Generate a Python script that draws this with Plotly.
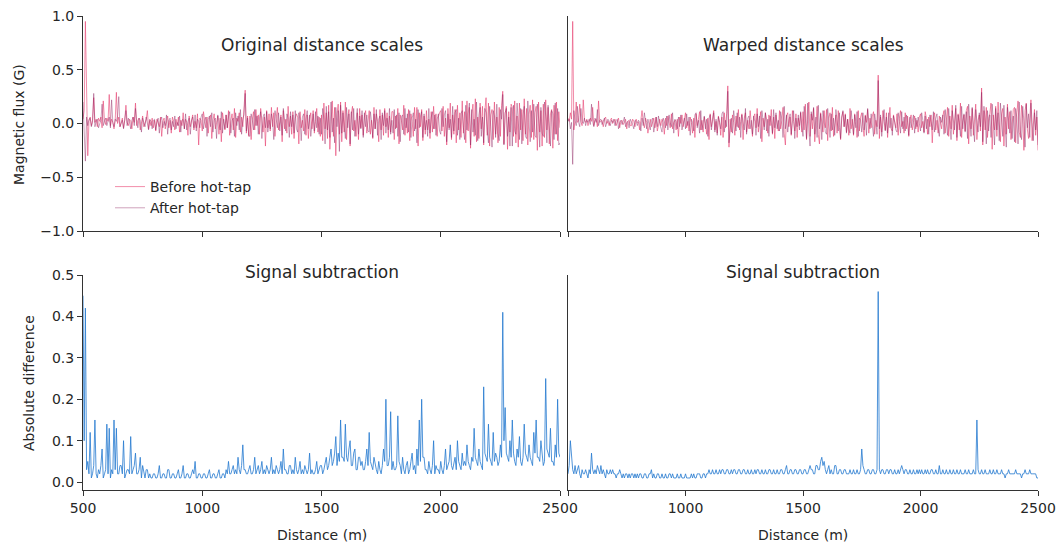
import plotly.graph_objects as go

# ---------------- data (5 m sampling from 500 m) ----------------
START_M = 500
STEP_M = 5

before_orig = [
    0.04, 0.12, 0.95, 0.10, -0.30, 0.02, 0.06, -0.02, 0.03, 0.24, 0.01, 0.04, -0.03, 0.05, 0.02, 0.06, -0.04, 0.21, 0.03, -0.01,
    0.05, 0.02, 0.27, -0.02, 0.04, 0.01, -0.05, 0.03, 0.29, 0.00, 0.06, -0.03, 0.02, 0.05, -0.04, 0.03, 0.17, 0.01, -0.02, 0.04,
    0.02, -0.05, 0.06, 0.01, 0.19, -0.02, 0.03, 0.05, -0.06, 0.02, 0.07, -0.03, 0.01, 0.04, 0.12, -0.05, 0.03, -0.02, 0.05, -0.04,
    0.03, -0.07, 0.04, 0.01, -0.03, 0.06, -0.12, 0.02, 0.05, -0.05, 0.01, 0.07, -0.04, 0.03, -0.09, 0.06, 0.02, -0.06, 0.04, -0.02,
    0.06, -0.08, 0.03, -0.02, 0.10, -0.05, 0.04, 0.01, -0.11, 0.07, -0.03, 0.05, 0.08, -0.06, 0.02, -0.04, 0.09, -0.20, 0.05, 0.03,
    -0.07, 0.11, 0.02, -0.04, 0.06, -0.09, 0.04, 0.08, -0.14, 0.03, 0.09, -0.05, 0.01, 0.07, -0.10, 0.05, -0.17, 0.10, 0.02, -0.06,
    0.08, -0.04, 0.12, -0.11, 0.03, 0.09, -0.06, 0.14, -0.13, 0.05, 0.02, 0.10, -0.08, 0.06, -0.03, 0.11, 0.31, -0.09, 0.07, -0.12,
    0.07, -0.15, 0.04, 0.11, -0.06, 0.13, -0.02, 0.08, -0.10, 0.14, 0.03, -0.08, 0.06, -0.21, 0.12, -0.04, 0.09, -0.07, 0.15, -0.03,
    0.10, -0.12, 0.05, 0.15, -0.06, 0.02, 0.08, -0.17, 0.12, -0.05, 0.04, -0.09, 0.16, -0.03, 0.07, -0.10, 0.11, -0.14, 0.05, 0.09,
    0.06, -0.19, 0.11, -0.04, 0.03, -0.07, 0.13, -0.11, 0.08, -0.14, 0.04, 0.10, -0.05, 0.12, -0.09, 0.02, 0.14, -0.08, 0.06, -0.12,
    0.08, -0.16, 0.19, -0.05, 0.10, -0.14, 0.17, -0.24, 0.06, 0.21, -0.12, 0.15, -0.30, 0.09, 0.18, -0.10, 0.20, -0.17, 0.12, -0.08,
    0.20, -0.15, 0.05, 0.13, -0.21, 0.09, 0.16, -0.07, 0.03, -0.12, 0.10, -0.15, 0.14, -0.04, 0.08, -0.11, 0.06, 0.12, -0.09, 0.04,
    0.12, -0.10, 0.03, -0.14, 0.15, -0.05, 0.09, 0.02, -0.17, 0.13, -0.06, 0.08, -0.11, 0.14, -0.03, 0.10, -0.13, 0.07, -0.08, 0.11,
    0.11, -0.15, 0.07, -0.04, 0.14, -0.19, 0.08, 0.03, -0.06, 0.17, -0.11, 0.05, -0.09, 0.13, -0.16, 0.09, 0.02, -0.12, 0.15, -0.05,
    0.15, -0.21, 0.10, -0.03, 0.13, -0.16, 0.07, -0.10, 0.12, -0.06, 0.04, -0.14, 0.11, -0.08, 0.16, -0.05, 0.09, -0.12, 0.06, 0.10,
    0.12, -0.07, 0.16, -0.12, 0.05, -0.20, 0.14, -0.04, 0.19, -0.15, 0.08, -0.10, 0.13, -0.18, 0.17, -0.06, 0.10, -0.13, 0.21, -0.09,
    0.11, -0.18, 0.21, -0.07, 0.15, -0.23, 0.09, 0.18, -0.12, 0.23, -0.17, 0.06, -0.14, 0.19, -0.05, 0.16, -0.20, 0.12, 0.24, -0.11,
    0.19, -0.21, 0.08, 0.13, -0.15, 0.20, -0.10, 0.06, -0.18, 0.15, -0.12, 0.17, 0.30, -0.19, 0.09, 0.16, -0.24, 0.11, -0.08, 0.18,
    0.15, -0.12, 0.21, -0.18, 0.07, -0.22, 0.19, -0.06, 0.13, -0.16, 0.23, -0.10, 0.14, -0.20, 0.08, 0.17, -0.13, 0.22, -0.15, 0.10,
    0.16, -0.25, 0.20, -0.08, 0.12, -0.21, 0.18, -0.13, 0.22, -0.06, 0.15, -0.19, 0.09, 0.13, -0.23, 0.17, -0.10, 0.20, -0.16, 0.11,
    -0.04,
]

after_orig = [
    0.20, -0.10, -0.35, 0.06, -0.02, 0.04, 0.05, -0.03, 0.01, 0.28, -0.03, 0.02, 0.04, -0.04, 0.01, 0.03, 0.18, -0.02, 0.02, 0.05,
    -0.02, 0.03, 0.06, -0.04, 0.22, 0.01, -0.03, 0.04, 0.02, 0.07, 0.25, -0.03, 0.01, 0.03, -0.05, 0.04, 0.12, -0.02, 0.05, 0.01,
    -0.05, 0.03, 0.06, -0.02, 0.14, 0.02, -0.04, 0.05, 0.03, -0.08, 0.05, 0.01, -0.03, 0.06, 0.01, -0.06, 0.04, 0.02, -0.05, 0.03,
    0.04, -0.06, 0.01, 0.05, -0.09, 0.03, 0.06, -0.04, 0.02, -0.02, 0.08, -0.10, 0.03, 0.05, -0.06, 0.02, -0.03, 0.07, -0.05, 0.01,
    -0.02, 0.07, -0.08, 0.03, 0.04, -0.05, 0.09, -0.06, 0.02, 0.05, -0.10, 0.03, 0.06, -0.04, 0.08, -0.07, 0.04, 0.02, -0.04, 0.06,
    0.09, -0.05, 0.02, 0.06, -0.12, 0.04, 0.07, -0.03, 0.10, -0.08, 0.03, 0.05, -0.14, 0.08, 0.02, -0.06, 0.11, -0.09, 0.04, -0.05,
    0.08, -0.04, 0.06, 0.11, -0.09, 0.03, 0.05, -0.12, 0.10, -0.02, 0.07, -0.06, 0.13, -0.10, 0.04, 0.08, 0.28, -0.07, 0.05, -0.11,
    -0.12, 0.09, 0.03, -0.06, 0.13, -0.02, 0.07, -0.10, 0.05, 0.11, -0.14, 0.06, 0.09, -0.04, 0.11, -0.08, 0.03, -0.05, 0.09, 0.02,
    -0.15, 0.12, 0.04, -0.04, 0.10, -0.07, 0.06, -0.11, 0.14, 0.02, -0.07, 0.09, 0.05, -0.13, 0.11, -0.03, 0.08, -0.09, 0.12, -0.05,
    -0.08, 0.10, 0.03, -0.16, 0.06, 0.09, -0.10, 0.04, 0.12, -0.05, 0.08, -0.12, 0.03, 0.09, -0.07, 0.11, -0.04, 0.07, -0.10, 0.05,
    -0.10, 0.14, 0.04, -0.19, 0.16, -0.06, 0.11, -0.13, 0.20, -0.08, 0.05, -0.18, 0.15, -0.03, 0.12, -0.26, 0.17, -0.09, 0.10, -0.05,
    -0.14, 0.15, -0.04, 0.09, -0.19, 0.11, -0.06, 0.14, -0.12, 0.03, 0.14, -0.10, 0.07, -0.05, 0.12, -0.13, 0.10, -0.03, 0.08, -0.07,
    -0.08, 0.11, 0.02, -0.13, 0.09, -0.05, 0.13, -0.11, 0.04, 0.07, -0.15, 0.10, -0.02, 0.12, -0.09, 0.05, -0.06, 0.14, -0.10, 0.03,
    -0.09, 0.13, -0.05, 0.08, -0.12, 0.10, -0.17, 0.06, 0.08, -0.10, 0.14, -0.04, 0.09, -0.08, 0.12, -0.13, 0.05, 0.10, -0.07, 0.04,
    -0.18, 0.13, -0.04, 0.07, 0.11, -0.13, 0.09, -0.06, 0.03, -0.12, 0.14, -0.09, 0.06, 0.11, -0.05, 0.08, -0.11, 0.04, 0.09, -0.07,
    -0.10, 0.14, -0.03, 0.08, 0.12, -0.17, 0.09, -0.06, 0.04, -0.13, 0.16, -0.07, 0.10, 0.13, -0.11, 0.05, -0.15, 0.09, 0.12, -0.04,
    -0.15, 0.17, -0.06, 0.09, 0.19, -0.20, 0.13, -0.08, 0.04, -0.11, 0.20, -0.16, 0.08, 0.15, -0.12, 0.06, -0.18, 0.14, 0.10, -0.07,
    -0.18, 0.16, -0.05, -0.22, 0.12, 0.07, -0.13, 0.18, -0.09, -0.16, 0.13, 0.04, 0.27, -0.20, 0.10, 0.14, -0.12, 0.06, -0.21, 0.15,
    -0.21, 0.17, -0.07, -0.10, 0.19, 0.05, -0.15, 0.14, -0.19, 0.08, 0.16, -0.12, -0.14, 0.21, 0.06, -0.17, 0.12, -0.08, 0.18, -0.11,
    -0.13, 0.18, 0.05, -0.22, 0.15, -0.09, -0.12, 0.20, 0.07, -0.18, 0.17, -0.05, -0.21, 0.12, 0.09, -0.15, 0.19, -0.10, 0.14, -0.20,
    -0.18,
]

before_warp = [
    0.05, 0.02, 0.10, 0.04, 0.95, -0.06, 0.03, 0.20, 0.01, 0.03, 0.18, 0.02, -0.02, 0.22, 0.03, 0.01, 0.04, -0.02, 0.02, 0.05,
    0.02, 0.15, -0.02, 0.03, 0.04, -0.03, 0.21, 0.01, 0.02, 0.03, -0.03, 0.04, 0.06, 0.00, 0.02, -0.02, 0.03, 0.05, 0.00, 0.02,
    0.04, -0.02, 0.01, 0.05, -0.04, 0.02, 0.03, -0.01, 0.01, 0.04, -0.05, 0.02, 0.03, -0.02, -0.02, 0.04, 0.02, -0.03, 0.04, 0.01,
    0.01, -0.06, 0.03, 0.12, 0.02, -0.04, 0.05, 0.01, -0.09, 0.00, 0.04, -0.03, 0.02, 0.05, -0.04, 0.06, -0.07, 0.01, 0.04, -0.02,
    0.04, 0.01, -0.10, 0.05, -0.02, 0.07, 0.02, -0.04, 0.09, -0.05, 0.01, 0.03, -0.06, 0.04, -0.12, 0.06, 0.00, 0.08, -0.03, 0.02,
    0.10, -0.04, 0.02, -0.07, 0.06, 0.01, -0.09, 0.05, -0.13, 0.09, -0.02, 0.04, 0.11, -0.06, 0.03, -0.08, 0.06, 0.00, -0.10, 0.05,
    -0.15, 0.09, -0.03, 0.04, 0.12, -0.06, 0.02, -0.09, 0.07, 0.01, -0.11, 0.06, -0.13, 0.10, -0.04, 0.09, 0.35, -0.22, 0.04, -0.08,
    0.08, 0.01, -0.11, 0.07, -0.03, 0.13, -0.06, 0.02, 0.09, -0.15, 0.05, 0.10, -0.08, 0.03, -0.05, 0.12, 0.00, -0.12, 0.06, 0.09,
    -0.04, 0.14, -0.08, 0.02, 0.11, -0.17, 0.05, -0.03, 0.10, 0.04, -0.09, 0.08, -0.02, 0.13, -0.10, 0.06, -0.14, 0.08, 0.01, -0.07,
    0.12, -0.05, 0.03, 0.15, -0.09, -0.20, 0.07, 0.10, -0.03, 0.06, -0.11, 0.12, 0.02, -0.07, 0.09, -0.13, 0.05, -0.02, 0.10, -0.08,
    0.11, -0.06, 0.18, -0.15, 0.04, 0.20, -0.12, 0.09, -0.05, 0.14, -0.17, 0.07, 0.16, -0.10, -0.19, 0.10, 0.03, -0.08, 0.12, -0.04,
    0.13, -0.16, 0.05, 0.10, -0.07, 0.15, -0.12, 0.02, 0.08, -0.09, 0.12, -0.04, -0.15, 0.06, 0.11, -0.03, 0.09, -0.08, 0.04, -0.11,
    0.14, -0.05, 0.04, -0.11, 0.09, 0.02, -0.13, 0.12, -0.07, 0.06, 0.10, -0.03, -0.12, 0.08, 0.01, 0.13, -0.09, 0.05, -0.04, 0.07,
    0.11, -0.10, 0.03, -0.03, 0.45, -0.14, 0.06, -0.08, 0.12, 0.02, -0.06, 0.10, -0.13, 0.04, 0.15, -0.05, -0.07, 0.08, 0.01, -0.04,
    0.09, -0.11, 0.05, 0.12, -0.03, 0.02, -0.09, 0.10, -0.05, 0.07, -0.12, 0.04, 0.08, -0.06, 0.01, 0.07, -0.05, 0.03, -0.08, 0.06,
    0.09, -0.04, 0.02, -0.08, 0.11, 0.05, -0.10, 0.06, -0.03, 0.08, -0.18, 0.04, 0.10, -0.06, 0.03, -0.09, 0.07, 0.01, -0.05, 0.07,
    0.12, -0.09, 0.04, 0.15, -0.12, 0.07, -0.05, 0.17, -0.10, 0.02, 0.14, -0.16, 0.09, -0.06, 0.19, -0.13, 0.03, 0.08, -0.07, 0.12,
    0.16, -0.19, 0.07, -0.05, 0.14, -0.11, 0.10, 0.18, -0.15, 0.03, 0.08, -0.07, 0.33, -0.20, 0.12, -0.06, 0.15, -0.13, 0.05, 0.09,
    0.19, -0.24, 0.08, -0.06, 0.16, -0.12, 0.20, 0.04, -0.17, 0.09, 0.14, -0.21, 0.06, -0.10, 0.18, -0.05, 0.11, -0.15, 0.03, 0.13,
    0.15, -0.18, 0.10, 0.21, -0.08, -0.13, 0.17, 0.05, -0.25, 0.12, 0.19, -0.06, -0.14, 0.09, 0.22, -0.16, 0.04, 0.13, -0.11, 0.06,
    -0.25,
]

after_warp = [
    0.02, 0.04, -0.05, 0.01, -0.38, 0.12, 0.03, -0.02, 0.16, 0.01, -0.03, 0.14, 0.02, 0.00, 0.05, -0.02, 0.03, 0.01, 0.04, -0.01,
    0.18, 0.02, -0.03, 0.05, 0.01, 0.13, -0.02, 0.03, 0.04, -0.01, 0.02, 0.05, -0.03, 0.02, 0.04, 0.01, -0.02, 0.03, 0.01, 0.04,
    -0.02, 0.03, 0.04, -0.05, 0.01, 0.03, -0.01, 0.02, 0.06, -0.03, 0.01, 0.02, -0.04, 0.04, 0.02, -0.01, -0.05, 0.03, 0.02, -0.02,
    0.03, 0.01, -0.07, 0.05, -0.02, 0.10, 0.02, -0.05, 0.04, -0.01, -0.06, 0.03, 0.05, -0.08, 0.02, 0.06, -0.03, 0.07, 0.00, -0.04,
    -0.08, 0.05, 0.02, -0.04, 0.07, -0.06, 0.08, 0.01, -0.03, 0.10, -0.09, 0.04, 0.02, -0.05, 0.06, -0.03, 0.08, -0.06, 0.01, 0.05,
    -0.05, 0.09, -0.02, 0.06, -0.11, 0.04, 0.01, -0.07, 0.08, 0.10, -0.04, 0.03, -0.09, 0.12, -0.06, 0.02, 0.07, -0.05, 0.04, -0.12,
    0.05, 0.08, -0.06, 0.02, 0.10, -0.08, 0.04, -0.11, 0.06, 0.01, -0.05, 0.09, 0.11, -0.08, 0.03, -0.03, 0.30, -0.18, -0.06, 0.05,
    -0.09, 0.12, 0.02, -0.07, 0.10, -0.04, 0.06, -0.13, 0.08, 0.01, -0.06, 0.14, -0.10, 0.05, 0.07, -0.05, 0.03, -0.10, 0.07, 0.02,
    -0.11, 0.09, -0.03, 0.07, -0.14, 0.12, 0.02, -0.06, 0.10, -0.07, 0.04, -0.12, 0.07, 0.01, -0.09, 0.13, -0.04, 0.10, -0.05, 0.03,
    -0.07, 0.11, 0.04, -0.13, 0.16, -0.05, 0.08, -0.08, 0.02, 0.09, -0.10, 0.06, 0.12, -0.14, 0.05, -0.03, 0.08, -0.06, 0.11, -0.02,
    -0.12, 0.16, 0.05, -0.14, 0.19, -0.07, -0.21, 0.11, 0.03, 0.15, -0.10, 0.06, -0.13, 0.17, -0.05, 0.09, -0.15, 0.12, 0.02, -0.08,
    -0.10, 0.14, 0.03, -0.13, 0.09, -0.06, 0.05, -0.11, 0.13, 0.01, -0.07, 0.10, -0.14, 0.06, 0.12, -0.03, 0.08, -0.09, 0.04, -0.05,
    -0.09, 0.12, 0.01, -0.10, 0.08, -0.04, 0.11, -0.12, 0.05, 0.03, -0.08, 0.10, -0.06, 0.07, -0.11, 0.14, 0.02, -0.05, 0.09, -0.03,
    -0.12, 0.09, 0.02, -0.10, 0.40, -0.05, 0.08, -0.12, 0.04, 0.13, -0.07, 0.06, -0.09, 0.10, -0.04, 0.05, -0.11, 0.07, 0.01, -0.06,
    -0.08, 0.10, 0.02, -0.09, 0.11, -0.05, 0.06, -0.07, 0.08, 0.01, -0.11, 0.06, -0.04, 0.03, 0.08, -0.09, 0.05, -0.03, 0.06, 0.00,
    -0.07, 0.10, 0.03, -0.09, 0.07, -0.05, 0.04, -0.10, 0.08, 0.02, -0.06, 0.11, -0.08, 0.05, 0.09, -0.04, -0.12, 0.06, 0.01, 0.08,
    -0.10, 0.13, 0.02, -0.11, 0.14, -0.07, -0.15, 0.12, 0.04, -0.06, 0.17, -0.13, 0.08, 0.01, -0.12, 0.16, -0.05, 0.09, -0.08, 0.11,
    -0.14, 0.18, 0.03, -0.12, 0.15, -0.06, -0.17, 0.13, 0.05, -0.08, 0.10, -0.03, 0.29, -0.17, 0.16, 0.04, -0.19, 0.12, -0.07, 0.08,
    -0.13, 0.18, 0.02, -0.20, 0.14, -0.06, 0.10, -0.16, 0.19, 0.04, -0.12, 0.17, -0.08, -0.22, 0.15, 0.03, -0.09, 0.12, -0.14, 0.07,
    -0.17, 0.14, 0.05, -0.19, 0.20, -0.07, -0.15, 0.16, 0.02, -0.22, 0.18, -0.04, 0.09, -0.13, 0.19, 0.01, -0.16, 0.10, -0.06, 0.12,
    -0.20,
]

diff_orig = [
    0.45, 0.10, 0.42, 0.03, 0.05, 0.02, 0.12, 0.01, 0.02, 0.04, 0.15, 0.02, 0.01, 0.03, 0.02, 0.04, 0.08, 0.01, 0.02, 0.03,
    0.14, 0.02, 0.13, 0.01, 0.03, 0.02, 0.15, 0.03, 0.13, 0.02, 0.02, 0.04, 0.04, 0.02, 0.10, 0.01, 0.02, 0.03, 0.03, 0.02,
    0.11, 0.02, 0.03, 0.04, 0.07, 0.02, 0.02, 0.03, 0.06, 0.01, 0.04, 0.02, 0.01, 0.03, 0.03, 0.01, 0.02, 0.01, 0.01, 0.02,
    0.02, 0.01, 0.01, 0.02, 0.04, 0.01, 0.01, 0.02, 0.02, 0.01, 0.01, 0.03, 0.03, 0.01, 0.01, 0.02, 0.02, 0.01, 0.01, 0.02,
    0.03, 0.01, 0.01, 0.02, 0.04, 0.01, 0.01, 0.02, 0.02, 0.01, 0.01, 0.02, 0.03, 0.02, 0.05, 0.01, 0.01, 0.02, 0.02, 0.01,
    0.01, 0.02, 0.02, 0.01, 0.01, 0.02, 0.03, 0.01, 0.01, 0.02, 0.02, 0.01, 0.01, 0.02, 0.03, 0.01, 0.01, 0.02, 0.02, 0.01,
    0.03, 0.02, 0.05, 0.02, 0.02, 0.03, 0.04, 0.02, 0.03, 0.02, 0.06, 0.03, 0.02, 0.04, 0.09, 0.03, 0.03, 0.02, 0.02, 0.03,
    0.04, 0.02, 0.02, 0.03, 0.06, 0.02, 0.03, 0.04, 0.02, 0.03, 0.05, 0.02, 0.03, 0.02, 0.04, 0.03, 0.02, 0.03, 0.06, 0.02,
    0.03, 0.02, 0.04, 0.03, 0.02, 0.03, 0.05, 0.02, 0.08, 0.03, 0.03, 0.02, 0.02, 0.04, 0.04, 0.02, 0.03, 0.02, 0.06, 0.03,
    0.02, 0.03, 0.05, 0.02, 0.03, 0.02, 0.04, 0.03, 0.02, 0.03, 0.07, 0.02, 0.03, 0.02, 0.02, 0.03, 0.05, 0.02, 0.03, 0.04,
    0.04, 0.02, 0.03, 0.05, 0.06, 0.03, 0.04, 0.06, 0.08, 0.04, 0.05, 0.07, 0.11, 0.04, 0.07, 0.05, 0.15, 0.06, 0.06, 0.05,
    0.14, 0.06, 0.05, 0.08, 0.10, 0.04, 0.04, 0.07, 0.08, 0.03, 0.03, 0.06, 0.06, 0.04, 0.05, 0.03, 0.03, 0.05, 0.08, 0.04,
    0.12, 0.05, 0.04, 0.03, 0.06, 0.04, 0.03, 0.02, 0.05, 0.03, 0.02, 0.04, 0.08, 0.05, 0.20, 0.04, 0.04, 0.06, 0.17, 0.03,
    0.05, 0.03, 0.03, 0.04, 0.16, 0.05, 0.04, 0.02, 0.06, 0.03, 0.02, 0.04, 0.05, 0.02, 0.03, 0.05, 0.07, 0.03, 0.04, 0.02,
    0.08, 0.04, 0.15, 0.05, 0.20, 0.06, 0.06, 0.03, 0.03, 0.02, 0.05, 0.03, 0.02, 0.04, 0.10, 0.02, 0.04, 0.03, 0.03, 0.02,
    0.05, 0.03, 0.02, 0.04, 0.08, 0.03, 0.04, 0.05, 0.09, 0.04, 0.03, 0.05, 0.06, 0.03, 0.10, 0.05, 0.04, 0.03, 0.07, 0.04,
    0.05, 0.04, 0.09, 0.05, 0.04, 0.03, 0.06, 0.05, 0.13, 0.06, 0.05, 0.04, 0.08, 0.05, 0.04, 0.03, 0.23, 0.07, 0.06, 0.05,
    0.14, 0.06, 0.05, 0.04, 0.12, 0.05, 0.07, 0.06, 0.04, 0.05, 0.09, 0.06, 0.41, 0.10, 0.18, 0.07, 0.06, 0.05, 0.10, 0.06,
    0.15, 0.07, 0.05, 0.04, 0.08, 0.06, 0.11, 0.05, 0.04, 0.06, 0.14, 0.07, 0.06, 0.05, 0.09, 0.06, 0.05, 0.04, 0.12, 0.07,
    0.15, 0.06, 0.06, 0.05, 0.10, 0.07, 0.04, 0.05, 0.25, 0.08, 0.07, 0.06, 0.13, 0.05, 0.05, 0.04, 0.09, 0.06, 0.20, 0.07,
    0.06,
]

diff_warp = [
    0.02, 0.04, 0.10, 0.05, 0.03, 0.02, 0.04, 0.02, 0.03, 0.04, 0.02, 0.01, 0.03, 0.02, 0.02, 0.03, 0.02, 0.01, 0.03, 0.02,
    0.07, 0.03, 0.02, 0.03, 0.02, 0.04, 0.03, 0.02, 0.04, 0.02, 0.03, 0.02, 0.01, 0.03, 0.02, 0.02, 0.03, 0.02, 0.03, 0.02,
    0.02, 0.01, 0.02, 0.02, 0.03, 0.02, 0.01, 0.02, 0.01, 0.02, 0.02, 0.01, 0.02, 0.01, 0.02, 0.02, 0.01, 0.02, 0.01, 0.02,
    0.01, 0.02, 0.02, 0.01, 0.01, 0.02, 0.02, 0.01, 0.01, 0.02, 0.02, 0.03, 0.01, 0.02, 0.01, 0.01, 0.02, 0.02, 0.01, 0.01,
    0.02, 0.01, 0.01, 0.02, 0.01, 0.01, 0.02, 0.02, 0.01, 0.02, 0.01, 0.01, 0.01, 0.02, 0.01, 0.01, 0.02, 0.01, 0.01, 0.01,
    0.02, 0.01, 0.01, 0.01, 0.01, 0.02, 0.01, 0.02, 0.01, 0.01, 0.02, 0.02, 0.02, 0.01, 0.01, 0.02, 0.02, 0.01, 0.02, 0.02,
    0.03, 0.02, 0.02, 0.03, 0.02, 0.02, 0.03, 0.02, 0.02, 0.03, 0.02, 0.03, 0.03, 0.02, 0.02, 0.03, 0.03, 0.02, 0.02, 0.03,
    0.02, 0.03, 0.03, 0.02, 0.02, 0.03, 0.03, 0.02, 0.02, 0.03, 0.03, 0.02, 0.02, 0.03, 0.02, 0.02, 0.03, 0.02, 0.02, 0.03,
    0.02, 0.03, 0.03, 0.02, 0.02, 0.03, 0.02, 0.02, 0.03, 0.02, 0.02, 0.03, 0.03, 0.02, 0.02, 0.03, 0.02, 0.02, 0.03, 0.02,
    0.02, 0.03, 0.03, 0.02, 0.02, 0.03, 0.04, 0.02, 0.02, 0.03, 0.03, 0.02, 0.02, 0.03, 0.03, 0.02, 0.02, 0.03, 0.03, 0.02,
    0.02, 0.03, 0.03, 0.02, 0.02, 0.03, 0.04, 0.03, 0.03, 0.02, 0.02, 0.04, 0.04, 0.03, 0.03, 0.05, 0.06, 0.04, 0.05, 0.03,
    0.02, 0.03, 0.04, 0.02, 0.03, 0.02, 0.02, 0.04, 0.04, 0.02, 0.02, 0.03, 0.03, 0.02, 0.02, 0.03, 0.03, 0.02, 0.02, 0.02,
    0.03, 0.02, 0.02, 0.03, 0.02, 0.02, 0.03, 0.02, 0.02, 0.03, 0.08, 0.04, 0.03, 0.02, 0.02, 0.03, 0.03, 0.02, 0.02, 0.03,
    0.03, 0.02, 0.02, 0.03, 0.46, 0.03, 0.02, 0.03, 0.03, 0.02, 0.02, 0.03, 0.03, 0.02, 0.03, 0.03, 0.02, 0.02, 0.03, 0.02,
    0.02, 0.03, 0.02, 0.03, 0.04, 0.03, 0.02, 0.03, 0.03, 0.02, 0.02, 0.03, 0.02, 0.02, 0.03, 0.02, 0.02, 0.03, 0.02, 0.03,
    0.02, 0.03, 0.02, 0.02, 0.03, 0.02, 0.03, 0.02, 0.02, 0.03, 0.03, 0.02, 0.02, 0.03, 0.02, 0.02, 0.04, 0.02, 0.02, 0.03,
    0.02, 0.02, 0.03, 0.02, 0.02, 0.03, 0.02, 0.02, 0.03, 0.02, 0.02, 0.03, 0.02, 0.02, 0.03, 0.02, 0.02, 0.02, 0.03, 0.02,
    0.02, 0.03, 0.02, 0.02, 0.02, 0.03, 0.02, 0.02, 0.15, 0.03, 0.02, 0.02, 0.03, 0.02, 0.02, 0.03, 0.02, 0.02, 0.02, 0.03,
    0.02, 0.02, 0.03, 0.02, 0.02, 0.03, 0.02, 0.02, 0.02, 0.03, 0.02, 0.02, 0.01, 0.02, 0.02, 0.03, 0.02, 0.02, 0.02, 0.02,
    0.02, 0.03, 0.02, 0.02, 0.02, 0.02, 0.01, 0.02, 0.02, 0.03, 0.02, 0.02, 0.02, 0.03, 0.02, 0.02, 0.02, 0.02, 0.02, 0.01,
    0.01,
]

x_ticks = [500, 1000, 1500, 2000, 2500]
flux_ticks = [-1.0, -0.5, 0.0, 0.5, 1.0]
diff_ticks = [0.0, 0.1, 0.2, 0.3, 0.4, 0.5]


def dist(values):
    return [START_M + STEP_M * i for i in range(len(values))]


# ---------------- styling ----------------
W, H = 1058, 544
FONT = "DejaVu Sans"
TXT = "#262626"
C_BEFORE = "rgba(232,62,112,0.85)"
C_AFTER = "rgba(138,30,92,0.6)"
C_DIFF = "rgba(38,122,208,0.9)"
LW = 0.7


def px_x(p):
    return p / W


def px_y(p):
    return 1 - p / H


fig = go.Figure()

fig.add_trace(go.Scatter(x=dist(before_orig), y=before_orig, mode="lines", name="Before hot-tap",
                         line=dict(color=C_BEFORE, width=LW), xaxis="x", yaxis="y"))
fig.add_trace(go.Scatter(x=dist(after_orig), y=after_orig, mode="lines", name="After hot-tap",
                         line=dict(color=C_AFTER, width=LW), xaxis="x", yaxis="y"))
fig.add_trace(go.Scatter(x=dist(before_warp), y=before_warp, mode="lines", showlegend=False,
                         line=dict(color=C_BEFORE, width=LW), xaxis="x2", yaxis="y2"))
fig.add_trace(go.Scatter(x=dist(after_warp), y=after_warp, mode="lines", showlegend=False,
                         line=dict(color=C_AFTER, width=LW), xaxis="x2", yaxis="y2"))
fig.add_trace(go.Scatter(x=dist(diff_orig), y=diff_orig, mode="lines", showlegend=False,
                         line=dict(color=C_DIFF, width=0.9), xaxis="x3", yaxis="y3"))
fig.add_trace(go.Scatter(x=dist(diff_warp), y=diff_warp, mode="lines", showlegend=False,
                         line=dict(color=C_DIFF, width=0.9), xaxis="x4", yaxis="y4"))

L_DOM = [px_x(83), px_x(560)]
R_DOM = [px_x(568), px_x(1038)]
TOP_DOM = [px_y(231), px_y(16)]
BOT_DOM = [px_y(490), px_y(275)]

axis_common = dict(showline=True, linecolor="#333333", linewidth=1, showgrid=False,
                   zeroline=False, ticks="outside", ticklen=5, tickcolor="#333333",
                   automargin=False,
                   tickfont=dict(family=FONT, size=14, color=TXT))
xrange = [500, 2500]

fig.update_layout(
    width=W, height=H,
    margin=dict(l=0, r=0, t=0, b=0, autoexpand=False),
    paper_bgcolor="white", plot_bgcolor="white",
    font=dict(family=FONT, size=14, color=TXT),
    showlegend=True,
    legend=dict(x=px_x(110), y=px_y(171), xanchor="left", yanchor="top",
                bgcolor="rgba(255,255,255,0)", font=dict(family=FONT, size=14, color=TXT),
                itemwidth=30, tracegroupgap=0),
    xaxis=dict(axis_common, domain=L_DOM, range=xrange, anchor="y",
               tickvals=x_ticks, showticklabels=False),
    yaxis=dict(axis_common, domain=TOP_DOM, range=[-1.0, 1.0], anchor="x",
               tickvals=flux_ticks, ticktext=["\u22121.0", "\u22120.5", "0.0", "0.5", "1.0"]),
    xaxis2=dict(axis_common, domain=R_DOM, range=xrange, anchor="y2",
                tickvals=x_ticks, showticklabels=False),
    yaxis2=dict(axis_common, domain=TOP_DOM, range=[-1.0, 1.0], anchor="x2",
                ticks="", showticklabels=False),
    xaxis3=dict(axis_common, domain=L_DOM, range=xrange, anchor="y3",
                tickvals=x_ticks, ticktext=[str(v) for v in x_ticks]),
    yaxis3=dict(axis_common, domain=BOT_DOM, range=[-0.019, 0.5], anchor="x3",
                tickvals=diff_ticks, ticktext=[f"{v:.1f}" for v in diff_ticks]),
    xaxis4=dict(axis_common, domain=R_DOM, range=xrange, anchor="y4",
                tickvals=x_ticks, ticktext=[""] + [str(v) for v in x_ticks[1:]]),
    yaxis4=dict(axis_common, domain=BOT_DOM, range=[-0.019, 0.5], anchor="x4",
                ticks="", showticklabels=False),
)

ann = []


def text(xp, yp, s, size, angle=0):
    ann.append(dict(x=px_x(xp), y=px_y(yp), xref="paper", yref="paper", text=s,
                    showarrow=False, textangle=angle, xanchor="center", yanchor="middle",
                    font=dict(family=FONT, size=size, color=TXT)))


text(322, 45, "Original distance scales", 17)
text(803, 45, "Warped distance scales", 17)
text(322, 272, "Signal subtraction", 17)
text(803, 272, "Signal subtraction", 17)
text(322, 535, "Distance (m)", 14)
text(803, 535, "Distance (m)", 14)
text(19, 125, "Magnetic flux (G)", 14, -90)
text(29, 383, "Absolute difference", 14, -90)
fig.update_layout(annotations=ann)

fig.write_html(
    "out.html",
    config={"displayModeBar": False},
    post_script="document.body.style.margin='0';document.body.style.overflow='hidden';",
)
